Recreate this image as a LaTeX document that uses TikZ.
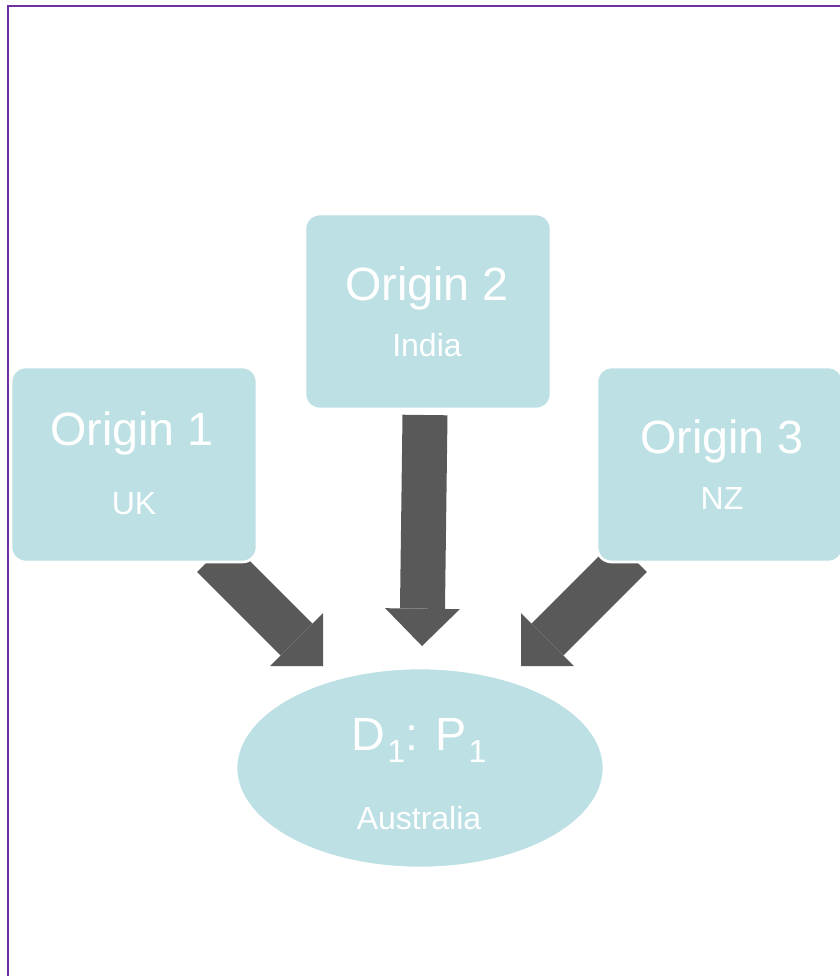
\documentclass[tikz,border=0pt]{standalone}
\usepackage{fontspec}
\setmainfont{Liberation Sans}
\usetikzlibrary{arrows.meta,shapes.geometric}
\definecolor{boxfill}{HTML}{BCE0E3}
\definecolor{arrowgray}{HTML}{595959}
\definecolor{framepurple}{HTML}{7030A0}
\newcommand{\lowone}{\hspace{1.5pt}\raisebox{-9pt}{\fontsize{24}{24}\selectfont 1}}
\begin{document}
\begin{tikzpicture}[x=0.75pt,y=-0.75pt,
    originbox/.style={rectangle,rounded corners=11pt,fill=boxfill,draw=white,line width=2pt,
        minimum width=184.5pt,minimum height=146.25pt},
    destblob/.style={ellipse,fill=boxfill,draw=white,line width=2pt,
        minimum width=276pt,minimum height=150pt},
    title/.style={anchor=base,text=white,font=\fontsize{35}{40}\selectfont},
    subtitle/.style={anchor=base,text=white,font=\fontsize{24}{28}\selectfont},
    flow/.style={draw=arrowgray,line width=33.75pt,
        -{Triangle[length=28pt,width=56pt,line width=0pt,color=arrowgray]}}]

    \useasboundingbox (0,0) rectangle (840,976);
    \clip (0,0) rectangle (840,976);

    % frame
    \draw[framepurple,line width=2.2pt] (8,1000) -- (8,6) -- (860,6);

    % tips of the arrows
    \coordinate (tip1) at (323,666);
    \coordinate (tip2) at (422,646);
    \coordinate (tip3) at (521,666);
    \coordinate (tail1) at (213,556);
    \coordinate (tail2) at (425,415);
    \coordinate (tail3) at (631,556);

    \draw[flow] (tail1) -- (tip1);
    \draw[flow] (tail2) -- (tip2);
    \draw[flow] (tail3) -- (tip3);

    % origins
    \node[originbox] (o1) at (134,464.5) {};
    \node[originbox] (o2) at (428,311.5) {};
    \node[originbox] (o3) at (720,464.5) {};

    \node[title] (o1t) at (132,445) {Origin 1};
    \node[subtitle] (o1s) at (134,514) {UK};
    \node[title] (o2t) at (427,300) {Origin 2};
    \node[subtitle] (o2s) at (427,356) {India};
    \node[title] (o3t) at (722,453) {Origin 3};
    \node[subtitle] (o3s) at (722,509) {NZ};

    % destination
    \node[destblob] (d) at (420,768) {};
    \node[title] (dt) at (419,750) {D\lowone: P\lowone};
    \node[subtitle] (ds) at (419,829) {Australia};

\end{tikzpicture}
\end{document}
